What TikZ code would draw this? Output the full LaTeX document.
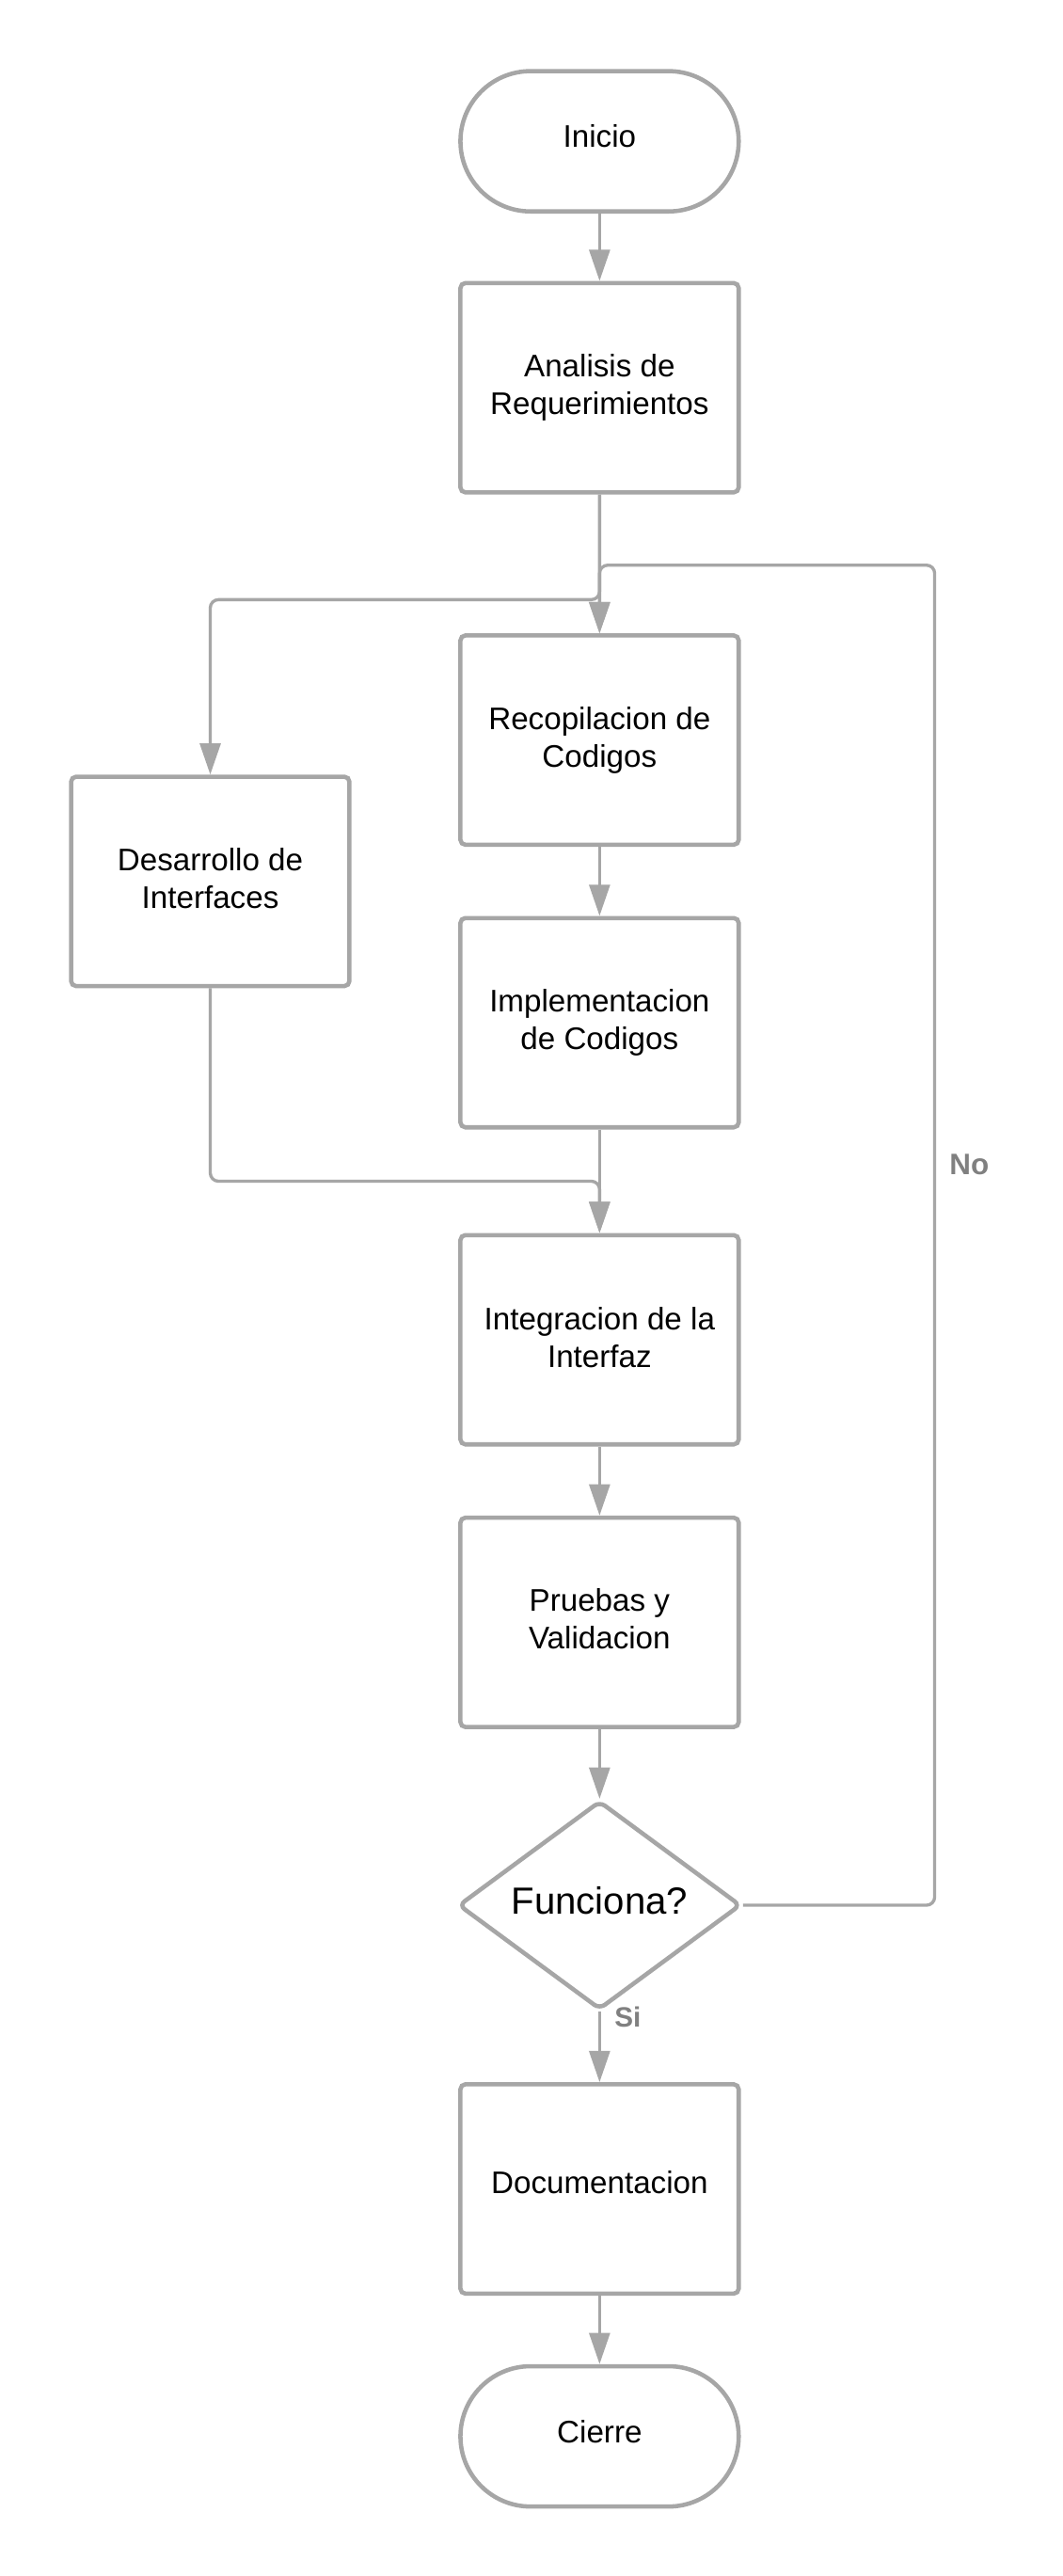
\documentclass[tikz,border=0pt]{standalone}
\usepackage{fontspec}
\setmainfont{Liberation Sans}
\usetikzlibrary{arrows.meta,shapes.geometric}
\definecolor{lineg}{RGB}{166,166,166}
\definecolor{labg}{RGB}{128,128,128}
\tikzset{
  txt/.style={align=center, font=\fontsize{19}{23}\selectfont, text=black, inner sep=0pt},
  box/.style={draw=lineg, line width=2.6pt, rounded corners=3pt, rectangle,
    minimum width=169.4pt, minimum height=127.4pt, inner sep=0pt},
  term/.style={draw=lineg, line width=2.6pt, rounded corners=42.7pt, rectangle,
    minimum width=169.4pt, minimum height=85.4pt, inner sep=0pt},
  decis/.style={draw=lineg, line width=2.6pt, rounded corners=4pt, diamond,
    minimum width=172pt, minimum height=127pt, inner sep=0pt, aspect=1.35},
  conn/.style={draw=lineg, line width=1.9pt, rounded corners=5pt,
    -{Triangle[length=19pt,width=12.5pt]}},
  lab/.style={text=labg, font=\bfseries, inner sep=0pt}
}
\begin{document}
\begin{tikzpicture}[x=1pt,y=-1pt]
\useasboundingbox (0,0) rectangle (647,1568);
\fill[white] (0,0) rectangle (647,1568);
\node[term, label={[txt,yshift=2.9pt]center:Inicio}] (ini) at (365,86) {};
\node[box, label={[txt]center:{Analisis de\\Requerimientos}}] (ana) at (365,236) {};
\node[box, label={[txt]center:{Recopilacion de\\Codigos}}] (rec) at (365,450.5) {};
\node[box, label={[txt,yshift=2pt]center:{Desarrollo de\\Interfaces}}] (des) at (128,536.5) {};
\node[box, label={[txt]center:{Implementacion\\de Codigos}}] (imp) at (365,622.5) {};
\node[box, label={[txt,yshift=1.5pt]center:{Integracion de la\\Interfaz}}] (int) at (365,815.5) {};
\node[box, label={[txt,yshift=2pt]center:{Pruebas y\\Validacion}}] (pru) at (365,987.5) {};
\node[decis, label={[txt,font=\fontsize{23}{27}\selectfont,yshift=2.7pt]center:Funciona?}] (fun) at (365,1159.7) {};
\node[box, label={[txt,yshift=4pt]center:Documentacion}] (doc) at (365,1332.4) {};
\node[term, label={[txt,yshift=2.8pt]center:Cierre}] (cie) at (365,1483) {};
\coordinate (loopR) at (569,1159.7);
\coordinate (loopT) at (569,344);
\coordinate (loopL) at (365,344);
\coordinate (brA) at (365,365);
\coordinate (brB) at (128,365);
\coordinate (joA) at (128,719);
\coordinate (joB) at (365,719);
\draw[conn] (ini.south) -- (ana.north);
\draw[conn] (ana.south) -- (rec.north);
\draw[conn] (ana.south) -- (brA) -- (brB) -- (des.north);
\draw[conn] (fun.east) -- (loopR) -- (loopT) -- (loopL) -- (rec.north);
\draw[conn] (rec.south) -- (imp.north);
\draw[conn] (imp.south) -- (int.north);
\draw[conn] (des.south) -- (joA) -- (joB) -- (int.north);
\draw[conn] (int.south) -- (pru.north);
\draw[conn] (pru.south) -- (fun.north);
\draw[conn] (fun.south) -- (doc.north);
\draw[conn] (doc.south) -- (cie.north);
\node[lab, font=\fontsize{17}{20}\selectfont\bfseries, anchor=west] (si) at (374,1228) {Si};
\node[lab, font=\fontsize{18}{21}\selectfont\bfseries] (no) at (590,709) {No};
\end{tikzpicture}
\end{document}
